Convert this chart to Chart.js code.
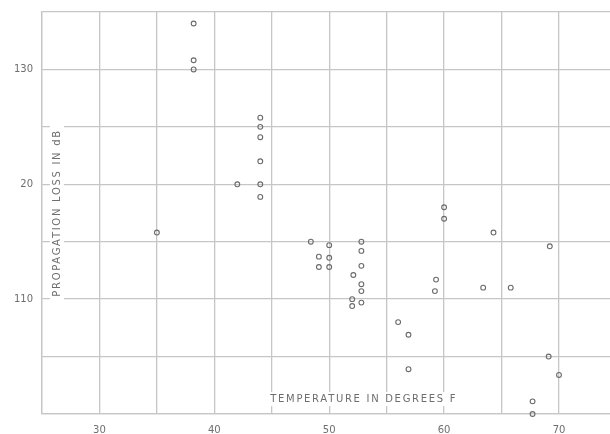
<!DOCTYPE html>
<html>
<head>
<meta charset="utf-8">
<script src="https://cdn.jsdelivr.net/npm/chart.js@4"></script>
<style>
  html,body{margin:0;padding:0;background:#fff;}
  #wrap{width:610px;height:434px;position:relative;}
</style>
</head>
<body>
<div id="wrap"><canvas id="c"></canvas></div>
<script>
// temperature (deg F) and propagation loss (dB)
const tempF  = [38.2,38.2,38.2,44.0,44.0,44.0,44.0,42.0,44.0,44.0,35.0,60.0,60.0,
                48.4,50.0,49.1,50.0,49.1,50.0,52.8,52.8,52.8,52.1,52.8,52.8,52.0,52.8,52.0,
                59.3,59.2,56.0,56.9,56.9,64.3,63.4,65.8,69.2,69.1,70.0,67.7,67.7];
const lossDb = [134.0,130.8,130.0,125.8,125.0,124.1,122.0,120.0,120.0,118.9,115.8,118.0,117.0,
                115.0,114.7,113.7,113.6,112.8,112.8,115.0,114.2,112.9,112.1,111.3,110.7,110.0,109.7,109.4,
                111.7,110.7,108.0,106.9,103.9,115.8,111.0,111.0,114.6,105.0,103.4,101.1,100.0];

const xTickLabels = {30:'30',40:'40',50:'50',60:'60',70:'70'};
const yTickLabels = {130:'130',120:'20',110:'110'};

const xTitle = 'TEMPERATURE IN DEGREES F';
const yTitle = 'PROPAGATION LOSS IN dB';

const gridCol = '#c6c6c6';
const textCol = '#6e6e6e';

const titles = {
  id:'titles',
  beforeDatasetsDraw(chart){
    const {ctx, scales:{x, y}} = chart;
    ctx.save();
    ctx.font = '10px "DejaVu Sans"';
    ctx.letterSpacing = '1.7px';
    ctx.textAlign = 'center';
    ctx.textBaseline = 'middle';
    // x title
    let cx = x.getPixelForValue(53.0), cy = y.getPixelForValue(101.3);
    let w = ctx.measureText(xTitle).width;
    ctx.fillStyle = '#fff';
    ctx.fillRect(cx - w/2 - 4, cy - 7, w + 8, 14);
    ctx.fillStyle = textCol;
    ctx.fillText(xTitle, cx, cy);
    // y title
    cx = x.getPixelForValue(26.3); cy = y.getPixelForValue(117.5);
    ctx.translate(cx, cy);
    ctx.rotate(-Math.PI/2);
    w = ctx.measureText(yTitle).width;
    ctx.fillStyle = '#fff';
    ctx.fillRect(-w/2 - 4, -7, w + 8, 14);
    ctx.fillStyle = textCol;
    ctx.fillText(yTitle, 0, 0);
    ctx.restore();
  }
};

new Chart(document.getElementById('c'), {
  type:'scatter',
  data:{
    datasets:[{
      data: tempF.map((t,i)=>({x:t, y:lossDb[i]})),
      pointRadius:2.4,
      pointBorderWidth:1.1,
      pointBorderColor:'#6a6a6a',
      pointBackgroundColor:'rgba(255,255,255,0)',
      clip:false
    }]
  },
  options:{
    responsive:true, maintainAspectRatio:false, animation:false,
    layout:{autoPadding:false, padding:{top:12,right:0,left:0,bottom:0}},
    plugins:{legend:{display:false},tooltip:{enabled:false}},
    scales:{
      x:{
        type:'linear', min:25, max:74.44,
        afterFit(s){ s.height = 20; s.paddingLeft = 0; s.paddingRight = 0; },
        grid:{color:gridCol,lineWidth:1.3,drawTicks:false},
        border:{color:gridCol,width:1.3},
        ticks:{stepSize:5,includeBounds:false,autoSkip:false,maxRotation:0,padding:10,color:textCol,
               font:{size:10,family:'DejaVu Sans'},
               callback:v=>xTickLabels[v]||''}
      },
      y:{
        type:'linear', min:100, max:135,
        afterFit(s){ s.width = 42; s.paddingTop = 0; s.paddingBottom = 0; },
        grid:{color:gridCol,lineWidth:1.3,drawTicks:false},
        border:{color:gridCol,width:1.3},
        ticks:{stepSize:5,autoSkip:false,padding:9,color:textCol,
               font:{size:10,family:'DejaVu Sans'},
               callback:v=>yTickLabels[v]||''}
      }
    }
  },
  plugins:[titles]
});
</script>
</body>
</html>
